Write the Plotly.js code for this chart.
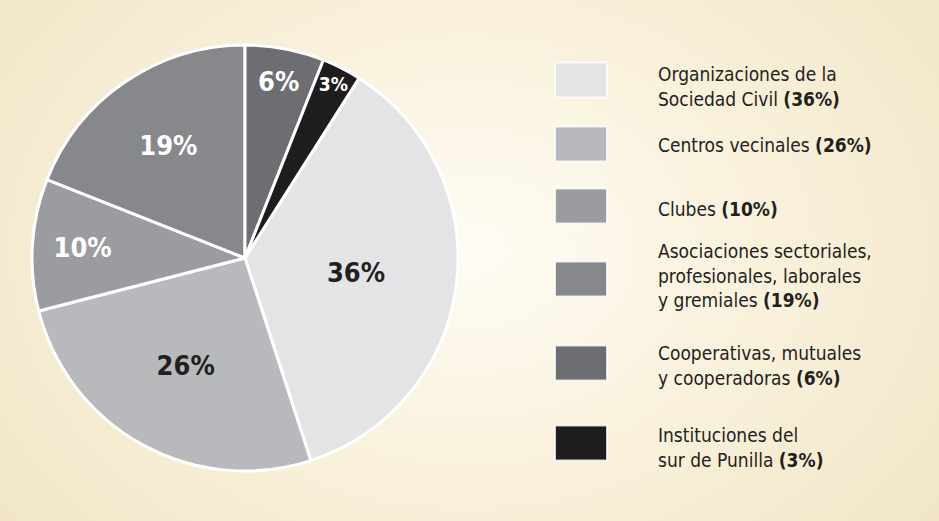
<!DOCTYPE html>
<html>
<head>
<meta charset="utf-8">
<script src="https://cdn.plot.ly/plotly-3.0.1.min.js"></script>
<style>
  html, body { margin: 0; padding: 0; }
  body {
    width: 939px; height: 521px; overflow: hidden;
    background: radial-gradient(ellipse 70% 95% at 50% 48%, #fefcf4 0%, #f9f1dc 45%, #f0e3c2 100%);
  }
  #chart { width: 939px; height: 521px; }
</style>
</head>
<body>
<div id="chart"></div>
<script>
// Data
const categories = [
  "Organizaciones de la Sociedad Civil",
  "Centros vecinales",
  "Clubes",
  "Asociaciones sectoriales, profesionales, laborales y gremiales",
  "Cooperativas, mutuales y cooperadoras",
  "Instituciones del sur de Punilla"
];
const legendLines = [
  ["Organizaciones de la", "Sociedad Civil"],
  ["Centros vecinales"],
  ["Clubes"],
  ["Asociaciones sectoriales,", "profesionales, laborales", "y gremiales"],
  ["Cooperativas, mutuales", "y cooperadoras"],
  ["Instituciones del", "sur de Punilla"]
];
const values = [36, 26, 10, 19, 6, 3];
const colors = ["#e4e4e6", "#b8b9bc", "#9b9c9f", "#87888b", "#6d6e71", "#1f1c1d"];
const textColors = ["#231f20", "#231f20", "#ffffff", "#ffffff", "#ffffff", "#ffffff"];

const FONT = "'Liberation Sans Narrow', 'DejaVu Sans Condensed', 'Arial Narrow', sans-serif";
const W = 939, H = 521;

// Legend layout (pixel positions of each key box centre)
const boxCenters = [80, 144, 206, 279, 363, 443];
const textCenters = [86, 145, 209, 275, 365, 447];
const boxLeft = 555, boxRight = 607, boxH = 35, textLeft = 656;

const shapes = [];
const annotations = [];
values.forEach((v, i) => {
  const cy = boxCenters[i];
  shapes.push({
    type: "rect", xref: "paper", yref: "paper",
    x0: boxLeft / W, x1: boxRight / W,
    y0: 1 - (cy + boxH / 2) / H, y1: 1 - (cy - boxH / 2) / H,
    fillcolor: colors[i],
    line: { color: "rgba(255,255,255,0.8)", width: 2 }
  });
  const lines = legendLines[i].slice();
  lines[lines.length - 1] += " <b>(" + v + "%)</b>";
  annotations.push({
    xref: "paper", yref: "paper",
    x: textLeft / W, y: 1 - textCenters[i] / H,
    xanchor: "left", yanchor: "middle", align: "left",
    showarrow: false,
    text: lines.join("<br>"),
    font: { family: FONT, size: 19, color: "#231f20" }
  });
});

const trace = {
  type: "pie",
  labels: categories,
  values: values,
  sort: false,
  direction: "clockwise",
  rotation: 32.4,
  marker: { colors: colors, line: { color: "#ffffff", width: 3 } },
  texttemplate: "%{value}%",
  textposition: "inside",
  insidetextorientation: "horizontal",
  textfont: { family: FONT, size: 27, color: textColors, weight: "bold" },
  hoverinfo: "label+percent",
  showlegend: false,
  domain: { x: [32 / W, 458 / W], y: [(H - 471) / H, (H - 45) / H] }
};

const layout = {
  width: W, height: H,
  margin: { l: 0, r: 0, t: 0, b: 0 },
  paper_bgcolor: "rgba(0,0,0,0)",
  plot_bgcolor: "rgba(0,0,0,0)",
  showlegend: false,
  shapes: shapes,
  annotations: annotations,
  font: { family: FONT }
};

Plotly.newPlot("chart", [trace], layout, { displayModeBar: false, staticPlot: true });
</script>
</body>
</html>
